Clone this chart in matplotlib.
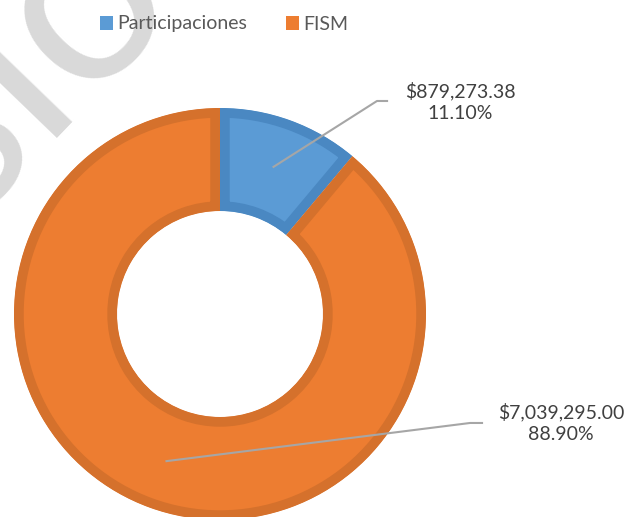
import numpy as np
import matplotlib.pyplot as plt
from matplotlib.patches import Patch

plt.rcParams["font.family"] = ["Lato", "DejaVu Sans"]

labels = ["Participaciones", "FISM"]
amounts = [879273.38, 7039295.00]

FILL = ["#5B9BD5", "#ED7D31"]
EDGE = ["#4A88C2", "#D5712C"]
LEADER = "#A6A6A6"
TEXT = "#404040"

# label placement (data coords, radius 1 = outer ring)
ELBOW = [(0.762, 1.034), (1.214, -0.529)]
LINE_END = [(0.811, 1.034), (1.272, -0.529)]
LABEL_XY = [(1.165, 1.03), (1.655, -0.53)]

W, H = 632, 517
fig = plt.figure(figsize=(W / 100, H / 100), dpi=100)

# watermark behind the chart (cut by the figure edge, as in the source)
fig.text(-33 / W, 1 - 223 / H, "sio", fontsize=180, fontweight="normal",
         color="#D9D9D9", rotation=46, rotation_mode="anchor",
         ha="left", va="baseline", zorder=0)

cx, cy, R = 220, 314, 206
ax = fig.add_axes([(cx - R) / W, (H - cy - R) / H, 2 * R / W, 2 * R / H])
ax.patch.set_alpha(0)

wedges, _ = ax.pie(amounts, startangle=90, counterclock=False, radius=1,
                   colors=FILL, wedgeprops=dict(width=0.5, linewidth=14))
for w, ec in zip(wedges, EDGE):
    # inner border only: clip the stroke to the wedge itself
    w.set_edgecolor(ec)
    w.set_clip_path(w)
    w.set_clip_on(True)
ax.set_xlim(-1, 1)
ax.set_ylim(-1, 1)

total = sum(amounts)
for i, (w, v) in enumerate(zip(wedges, amounts)):
    mid = np.deg2rad((w.theta1 + w.theta2) / 2)
    sx, sy = 0.76 * np.cos(mid), 0.76 * np.sin(mid)
    ex, ey = ELBOW[i]
    fx, fy = LINE_END[i]
    ax.plot([sx, ex, fx], [sy, ey, fy], color=LEADER, lw=1.5,
            clip_on=False, zorder=5)
    ax.text(LABEL_XY[i][0], LABEL_XY[i][1], f"${v:,.2f}\n{v / total:.2%}",
            ha="center", va="center", multialignment="center",
            fontsize=14, color=TEXT, linespacing=1.35, clip_on=False)

handles = [Patch(facecolor=c, edgecolor="none") for c in FILL]
fig.legend(handles, labels, loc="center", bbox_to_anchor=(224 / W, 1 - 24 / H),
           ncol=2, frameon=False, fontsize=14, labelcolor="#595959",
           handlelength=0.7, handleheight=0.7, handletextpad=0.2,
           columnspacing=2.0)

fig.savefig("out.png", dpi=100)
